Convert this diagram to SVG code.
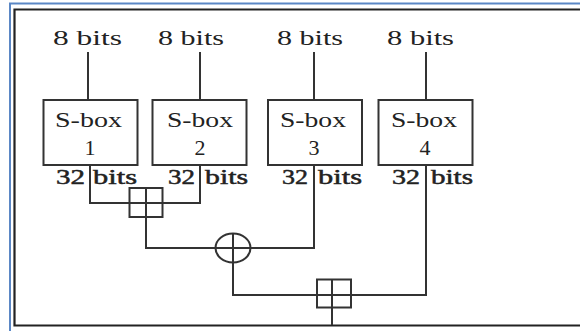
<svg xmlns="http://www.w3.org/2000/svg" width="580" height="331" viewBox="0 0 580 331">
<style>
.t{font-family:"Liberation Serif","DejaVu Serif",serif;font-size:22px;fill:#222}
.b{stroke:#222;stroke-width:0.5}
.box{fill:#fff;stroke:#333;stroke-width:2}
.ln{fill:none;stroke:#333;stroke-width:2}
</style>
<rect width="580" height="331" fill="#fff"/>
<g id="frame">
<path d="M10,331 V3.5 H580" fill="none" stroke="#5b87c5" stroke-width="2"/>
<path d="M580,9.5 H14.5 V325.5 H580" fill="none" stroke="#222" stroke-width="2.2"/>
</g>
<g id="connectors">
<path class="ln" d="M88,52 V100"/>
<path class="ln" d="M200,52 V100"/>
<path class="ln" d="M314,52 V100"/>
<path class="ln" d="M426,52 V100"/>
<path class="ln" d="M90,165 V203 H200 V165"/>
<path class="ln" d="M146,203 V248 H314 V165"/>
<path class="ln" d="M233,248 V295 H426 V165"/>
<path class="ln" d="M332,295 V325"/>
</g>
<g id="in1"><text class="t" x="53" y="45" textLength="69" lengthAdjust="spacingAndGlyphs">8 bits</text></g>
<g id="in2"><text class="t" x="158" y="45" textLength="66" lengthAdjust="spacingAndGlyphs">8 bits</text></g>
<g id="in3"><text class="t" x="277" y="45" textLength="66" lengthAdjust="spacingAndGlyphs">8 bits</text></g>
<g id="in4"><text class="t" x="387" y="45" textLength="67" lengthAdjust="spacingAndGlyphs">8 bits</text></g>
<g id="sbox1">
<rect class="box" x="43.5" y="100" width="94" height="65"/>
<text class="t" x="55" y="127" textLength="67" lengthAdjust="spacingAndGlyphs">S-box</text>
<text class="t" x="90" y="155" text-anchor="middle">1</text>
</g>
<g id="sbox2">
<rect class="box" x="152.5" y="100" width="94" height="65"/>
<text class="t" x="167" y="127" textLength="66" lengthAdjust="spacingAndGlyphs">S-box</text>
<text class="t" x="200" y="155" text-anchor="middle">2</text>
</g>
<g id="sbox3">
<rect class="box" x="268" y="100" width="94" height="65"/>
<text class="t" x="280" y="127" textLength="66" lengthAdjust="spacingAndGlyphs">S-box</text>
<text class="t" x="314" y="155" text-anchor="middle">3</text>
</g>
<g id="sbox4">
<rect class="box" x="378.5" y="100" width="94" height="65"/>
<text class="t" x="391" y="127" textLength="66" lengthAdjust="spacingAndGlyphs">S-box</text>
<text class="t" x="425" y="155" text-anchor="middle">4</text>
</g>
<g id="out-labels">
<text class="t b" x="56" y="184" textLength="29" lengthAdjust="spacingAndGlyphs">32</text>
<text class="t b" x="93" y="184" textLength="44" lengthAdjust="spacingAndGlyphs">bits</text>
<text class="t b" x="168" y="184" textLength="27" lengthAdjust="spacingAndGlyphs">32</text>
<text class="t b" x="205" y="184" textLength="43" lengthAdjust="spacingAndGlyphs">bits</text>
<text class="t b" x="282" y="184" textLength="26" lengthAdjust="spacingAndGlyphs">32</text>
<text class="t b" x="318" y="184" textLength="44" lengthAdjust="spacingAndGlyphs">bits</text>
<text class="t b" x="392" y="184" textLength="28" lengthAdjust="spacingAndGlyphs">32</text>
<text class="t b" x="431" y="184" textLength="42" lengthAdjust="spacingAndGlyphs">bits</text>
</g>
<g id="add1">
<rect class="ln" x="129.5" y="188" width="33" height="29"/>
<path class="ln" d="M146,188 V217 M129.5,203 H162.5"/>
</g>
<g id="xor">
<ellipse class="ln" cx="233" cy="248" rx="17.5" ry="14.5"/>
<path class="ln" d="M233,233.5 V262.5 M215.5,248 H250.5"/>
</g>
<g id="add2">
<rect class="ln" x="317" y="279.5" width="34" height="28"/>
<path class="ln" d="M332,279.5 V307.5 M317,295 H351"/>
</g>
</svg>
